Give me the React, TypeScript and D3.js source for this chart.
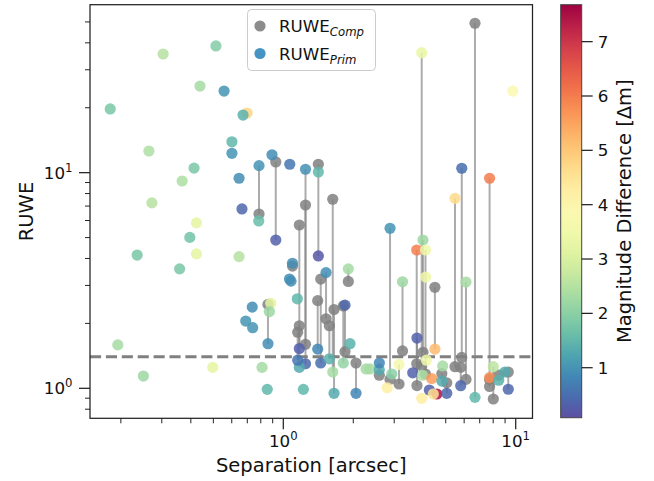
import React from 'react';
import * as d3 from 'd3';

// Binary systems with RUWE measured for both stars
const pairSep = [0.786, 0.928, 1.246, 1.246, 1.172, 1.172, 1.153, 1.415, 1.406, 1.449, 1.527, 1.578, 1.632, 1.653, 1.843, 1.812, 1.904, 2.055, 2.589, 2.879, 3.147, 3.258, 3.75, 3.76, 3.94, 3.99, 4.09, 4.49, 5.48, 5.86, 5.80, 6.11, 6.68, 7.72, 8.01, 9.29, 7.72, 8.45, 4.81, 5.05, 1.095, 0.859];
const pairPrim = [10.78, 4.87, 10.37, 1.30, 1.53, 1.25, 1.35, 4.11, 1.52, 1.31, 3.44, 1.37, 1.19, 0.948, 2.43, 1.31, 3.58, 0.948, 1.31, 5.52, 1.29, 3.12, 4.38, 1.71, 36.0, 4.87, 4.38, 1.52, 7.6, 10.48, 1.028, 3.11, 0.908, 9.42, 1.26, 0.99, 1.12, 1.09, 1.08, 0.948, 3.80, 1.61];
const pairComp = [6.43, 11.21, 1.60, 7.08, 5.72, 1.95, 1.82, 10.94, 2.55, 3.21, 2.10, 1.95, 7.53, 2.32, 1.48, 2.41, 3.13, 1.31, 1.15, 1.10, 1.047, 1.49, 1.30, 1.03, 1.27, 1.47, 1.165, 2.94, 1.26, 1.39, 1.25, 1.10, 49.3, 1.10, 0.892, 1.19, 1.02, 1.15, 1.17, 1.06, 3.69, 2.45];
const pairDm = [1.0, 0.3, 0.95, 0.4, 0.3, 1.3, 0.6, 0.2, 0.8, 0.5, 0.9, 1.4, 2.3, 1.3, 0.4, 2.1, 2.3, 0.8, 0.8, 1.0, 3.6, 2.2, 6.0, 0.3, 3.3, 2.2, 3.4, 5.2, 4.7, 0.5, 0.4, 2.3, 1.5, 6.0, 2.6, 0.4, 5.8, 1.4, 1.3, 0.4, 0.9, 0.9];

// Systems with a primary RUWE only
const soloSep = [0.180, 0.304, 0.513, 0.438, 0.556, 0.264, 0.601, 0.601, 0.698, 0.671, 0.413, 0.367, 0.272, 0.645, 0.664, 0.423, 0.235, 0.396, 0.358, 0.423, 0.645, 0.194, 0.250, 0.497, 0.784, 0.894, 1.066, 1.415, 1.063, 1.079, 0.735, 0.689, 0.738, 0.883, 0.871, 0.810, 0.853, 1.149, 1.220, 1.936, 2.27, 2.36, 2.587, 2.80, 2.93, 3.605, 3.94, 4.10, 4.13, 3.97, 4.35, 4.25, 4.58, 4.42, 4.85, 8.99, 9.71];
const soloPrim = [19.75, 35.5, 38.7, 25.2, 23.9, 12.6, 13.9, 12.3, 18.9, 18.5, 10.5, 9.15, 7.24, 9.42, 6.79, 5.85, 4.15, 5.01, 3.58, 4.20, 4.08, 1.59, 1.14, 1.25, 5.97, 12.1, 10.94, 10.07, 3.21, 3.14, 2.38, 2.05, 1.91, 2.48, 2.27, 1.25, 0.989, 2.60, 0.989, 1.61, 1.23, 1.23, 1.22, 1.006, 1.165, 1.18, 0.899, 3.28, 1.35, 1.15, 1.11, 0.982, 0.941, 0.941, 1.27, 1.19, 23.9];
const soloDm = [1.8, 2.5, 1.9, 2.3, 1.0, 2.4, 1.5, 1.0, 4.8, 1.4, 1.8, 2.4, 2.5, 0.9, 0.4, 3.2, 1.8, 1.7, 1.8, 3.2, 2.5, 2.3, 2.2, 3.2, 1.6, 0.9, 0.6, 1.5, 0.9, 0.9, 0.9, 1.0, 1.0, 3.2, 2.2, 2.3, 1.5, 1.5, 1.5, 1.4, 2.3, 2.3, 1.3, 4.2, 2.0, 0.3, 4.3, 3.4, 3.5, 2.4, 5.6, 0.3, 7.5, 4.5, 2.3, 1.3, 3.9];

const xMajorTicks = [1, 10];
const yMajorTicks = [1, 10];
const xMinorTicks = [0.2, 0.3, 0.4, 0.5, 0.6, 0.7, 0.8, 0.9, 2, 3, 4, 5, 6, 7, 8, 9];
const yMinorTicks = [0.8, 0.9, 2, 3, 4, 5, 6, 7, 8, 9, 20, 30, 40, 50];
const cbarTicks = [1, 2, 3, 4, 5, 6, 7];
const ruweThreshold = 1.4;

const FONT = 'DejaVu Sans';
const W = 654;
const H = 481;
const plot = { left: 90, right: 532.5, top: 4.7, bottom: 418.3 };
const cbar = { left: 560.7, right: 581.7, top: 4.7, bottom: 417.7 };
const dmDomain: [number, number] = [0.08, 7.68];

export default function App() {
  const x = d3.scaleLog().domain([0.1473, 11.81]).range([plot.left, plot.right]);
  const y = d3.scaleLog().domain([0.726, 60.1]).range([plot.bottom, plot.top]);
  const cNorm = d3.scaleLinear().domain(dmDomain).range([0, 1]).clamp(true);
  const color = (dm: number) => d3.interpolateSpectral(1 - cNorm(dm));
  const cy = d3.scaleLinear().domain(dmDomain).range([cbar.bottom, cbar.top]);

  const r = 5.6;
  const pairs = pairSep.map((s, i) => ({ s, p: pairPrim[i], c: pairComp[i], dm: pairDm[i] }));
  const prims = [
    ...soloSep.map((s, i) => ({ s, p: soloPrim[i], dm: soloDm[i] })),
    ...pairs.map((d) => ({ s: d.s, p: d.p, dm: d.dm })),
  ];

  const stops = d3.range(0, 1.0001, 0.05);

  return (
    <svg width={W} height={H} style={{ position: 'absolute', left: 0, top: 0 }} fontFamily={FONT}>
      <defs>
        <linearGradient id="cbarGrad" x1="0" y1="1" x2="0" y2="0">
          {stops.map((t) => (
            <stop key={t} offset={t} stopColor={d3.interpolateSpectral(1 - t)} />
          ))}
        </linearGradient>
        <clipPath id="plotClip">
          <rect x={plot.left} y={plot.top} width={plot.right - plot.left} height={plot.bottom - plot.top} />
        </clipPath>
      </defs>
      <rect x={0} y={0} width={W} height={H} fill="#fff" />

      <g clipPath="url(#plotClip)">
        {pairs.map((d, i) => (
          <line key={'l' + i} x1={x(d.s)} x2={x(d.s)} y1={y(d.p)} y2={y(d.c)} stroke="#808080" strokeOpacity={0.65} strokeWidth={2} />
        ))}
        <line x1={plot.left} x2={plot.right} y1={y(ruweThreshold)} y2={y(ruweThreshold)} stroke="#808080" strokeWidth={3} strokeDasharray="11.1 4.8" />
        {pairs.map((d, i) => (
          <circle key={'g' + i} cx={x(d.s)} cy={y(d.c)} r={r} fill="#808080" fillOpacity={0.85} />
        ))}
        {prims.map((d, i) => (
          <circle key={'p' + i} cx={x(d.s)} cy={y(d.p)} r={r} fill={color(d.dm)} fillOpacity={0.85} />
        ))}
      </g>

      {/* axes frame */}
      <rect x={plot.left} y={plot.top} width={plot.right - plot.left} height={plot.bottom - plot.top} fill="none" stroke="#222" strokeWidth={1.25} />

      {/* x ticks */}
      {xMajorTicks.map((t) => (
        <g key={'xt' + t}>
          <line x1={x(t)} x2={x(t)} y1={plot.bottom} y2={plot.bottom + 11} stroke="#222" strokeWidth={1.25} />
          <text x={x(t)} y={plot.bottom + 29} textAnchor="middle" fontSize={16.7} fill="#111">
            10<tspan dy={-7} fontSize={11.7}>{Math.round(Math.log10(t))}</tspan>
          </text>
        </g>
      ))}
      {xMinorTicks.map((t) => (
        <line key={'xm' + t} x1={x(t)} x2={x(t)} y1={plot.bottom} y2={plot.bottom + 5} stroke="#222" strokeWidth={1} />
      ))}
      <text x={(plot.left + plot.right) / 2} y={472} textAnchor="middle" fontSize={19.5} fill="#111">Separation [arcsec]</text>

      {/* y ticks */}
      {yMajorTicks.map((t) => (
        <g key={'yt' + t}>
          <line x1={plot.left - 11} x2={plot.left} y1={y(t)} y2={y(t)} stroke="#222" strokeWidth={1.25} />
          <text x={plot.left - 25} y={y(t) + 6} textAnchor="end" fontSize={16.7} fill="#111">10</text>
          <text x={plot.left - 25} y={y(t) - 1} textAnchor="start" fontSize={11.7} fill="#111">{Math.round(Math.log10(t))}</text>
        </g>
      ))}
      {yMinorTicks.map((t) => (
        <line key={'ym' + t} x1={plot.left - 5} x2={plot.left} y1={y(t)} y2={y(t)} stroke="#222" strokeWidth={1} />
      ))}
      <text transform={`translate(33,${(plot.top + plot.bottom) / 2}) rotate(-90)`} textAnchor="middle" fontSize={19.5} fill="#111">RUWE</text>

      {/* legend */}
      <g>
        <rect x={247.5} y={9.5} width={128} height={61} rx={4} fill="#fff" fillOpacity={0.8} stroke="#ccc" strokeWidth={1} />
        <circle cx={260} cy={26} r={r} fill="#808080" fillOpacity={0.9} />
        <text x={279} y={32} fontSize={16.7} fill="#111">
          RUWE<tspan dy={4} fontSize={11.7} fontStyle="italic">Comp</tspan>
        </text>
        <circle cx={260} cy={53.5} r={r} fill="#3288bd" fillOpacity={0.9} />
        <text x={279} y={59.5} fontSize={16.7} fill="#111">
          RUWE<tspan dy={4} fontSize={11.7} fontStyle="italic">Prim</tspan>
        </text>
      </g>

      {/* colorbar */}
      <rect x={cbar.left} y={cbar.top} width={cbar.right - cbar.left} height={cbar.bottom - cbar.top} fill="url(#cbarGrad)" stroke="#444" strokeWidth={1} />
      {cbarTicks.map((t) => (
        <g key={'ct' + t}>
          <line x1={cbar.right} x2={cbar.right + 11} y1={cy(t)} y2={cy(t)} stroke="#222" strokeWidth={1.25} />
          <text x={cbar.right + 16} y={cy(t) + 6} fontSize={16.7} fill="#111">{t}</text>
        </g>
      ))}
      <text transform={`translate(631,${(cbar.top + cbar.bottom) / 2}) rotate(-90)`} textAnchor="middle" fontSize={19.5} fill="#111">Magnitude Difference [Δm]</text>
    </svg>
  );
}
